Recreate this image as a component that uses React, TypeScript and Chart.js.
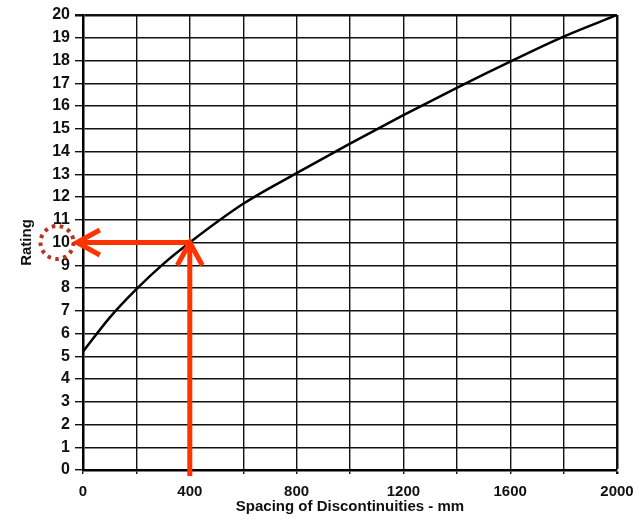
import React, { useEffect, useRef } from "react";
import { Chart, registerables } from "chart.js";

Chart.register(...registerables);

// Curve data
const spacing = [0, 100, 200, 300, 400, 600, 800, 1000, 1200, 1400, 1600, 1800, 2000];
const rating = [5.2, 6.7, 7.95, 9.05, 10.0, 11.7, 13.05, 14.35, 15.6, 16.8, 17.95, 19.05, 20.0];

// Example read-off shown with red arrows
const exampleSpacing = 400;
const exampleRating = 10;

const xTitle = "Spacing of Discontinuities - mm";
const yTitle = "Rating";
const xMin = 0;
const xMax = 2000;
const xStep = 200;
const xLabelStep = 400;
const yMin = 0;
const yMax = 20;
const yStep = 1;

const FONT = "'Liberation Sans', Arial, sans-serif";
const RED = "#ff3300";
const DARKRED = "#b8321c";

function drawArrow(ctx: CanvasRenderingContext2D, x1: number, y1: number, x2: number, y2: number) {
  const ang = Math.atan2(y2 - y1, x2 - x1);
  const len = 26;
  const spread = 0.5;
  ctx.beginPath();
  ctx.moveTo(x1, y1);
  ctx.lineTo(x2, y2);
  ctx.stroke();
  ctx.beginPath();
  ctx.moveTo(x2 - len * Math.cos(ang - spread), y2 - len * Math.sin(ang - spread));
  ctx.lineTo(x2, y2);
  ctx.lineTo(x2 - len * Math.cos(ang + spread), y2 - len * Math.sin(ang + spread));
  ctx.stroke();
}

const arrowPlugin = {
  id: "arrowPlugin",
  afterDraw(chart: any) {
    const { ctx, chartArea, scales } = chart;
    const px = scales.x.getPixelForValue(exampleSpacing);
    const py = scales.y.getPixelForValue(exampleRating);
    ctx.save();
    ctx.strokeStyle = RED;
    ctx.lineWidth = 5;
    ctx.lineCap = "butt";
    ctx.lineJoin = "miter";
    drawArrow(ctx, px, chartArea.bottom + 6, px, py);
    drawArrow(ctx, px, py, chartArea.left - 6, py);
    // dotted circle around the rating tick label
    ctx.strokeStyle = DARKRED;
    ctx.lineWidth = 4;
    ctx.setLineDash([3.5, 4.5]);
    ctx.beginPath();
    ctx.arc(chartArea.left - 26, py, 16.5, 0, Math.PI * 2);
    ctx.stroke();
    ctx.restore();
  },
};

export default function App() {
  const ref = useRef<HTMLCanvasElement>(null);
  useEffect(() => {
    if (!ref.current) return;
    const chart = new Chart(ref.current, {
      type: "line",
      data: {
        datasets: [
          {
            data: spacing.map((s, i) => ({ x: s, y: rating[i] })),
            borderColor: "#000",
            borderWidth: 2.5,
            pointRadius: 0,
            cubicInterpolationMode: "monotone",
            fill: false,
          },
        ],
      },
      options: {
        responsive: false,
        animation: false,
        events: [],
        layout: { padding: { left: 0, top: 15, right: 27, bottom: 0 } },
        plugins: { legend: { display: false }, tooltip: { enabled: false } },
        scales: {
          x: {
            type: "linear",
            min: xMin,
            max: xMax,
            afterFit: (s: any) => {
              s.height = 52;
            },
            ticks: {
              stepSize: xStep,
              autoSkip: false,
              maxRotation: 0,
              padding: 9,
              color: "#111",
              font: { family: FONT, size: 15, weight: "bold" },
              callback: (v: any) => (Number(v) % xLabelStep === 0 ? String(v) : ""),
            },
            grid: {
              color: "#111",
              lineWidth: (c: any) => (c.tick && c.tick.value === xMax ? 2.5 : 1.4),
              tickLength: 4,
            },
            border: { display: true, color: "#000", width: 2.5 },
            title: {
              display: true,
              text: xTitle,
              color: "#111",
              font: { family: FONT, size: 15, weight: "bold" },
              padding: { top: 0, bottom: 6 },
            },
          },
          y: {
            type: "linear",
            min: yMin,
            max: yMax,
            afterFit: (s: any) => {
              s.width = 83;
            },
            ticks: {
              stepSize: yStep,
              autoSkip: false,
              padding: 5,
              color: "#111",
              font: { family: FONT, size: 16, weight: "bold" },
            },
            grid: {
              color: "#111",
              lineWidth: (c: any) => (c.tick && c.tick.value === yMax ? 2.5 : 1.4),
              tickLength: 8,
            },
            border: { display: true, color: "#000", width: 2.5 },
            title: {
              display: true,
              text: yTitle,
              color: "#111",
              font: { family: FONT, size: 15, weight: "bold" },
              padding: { top: 18, bottom: 0 },
            },
          },
        },
      },
      plugins: [arrowPlugin],
    } as any);
    return () => chart.destroy();
  }, []);
  return (
    <div style={{ position: "fixed", left: 0, top: 0, width: 644, height: 522, background: "#fff" }}>
      <canvas ref={ref} width={644} height={522} />
    </div>
  );
}
